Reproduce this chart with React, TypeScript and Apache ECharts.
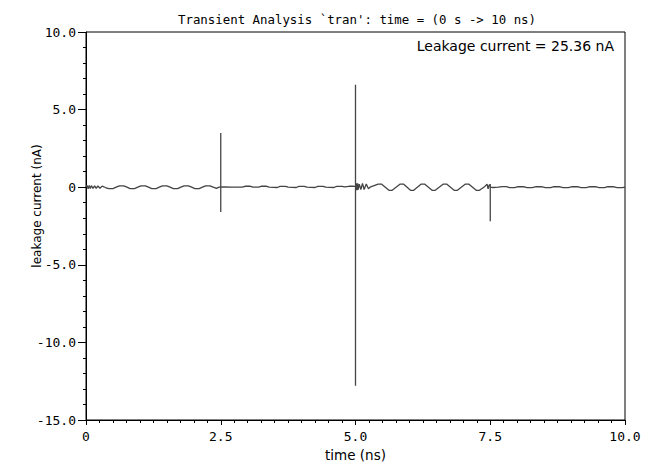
import React, { useEffect, useRef } from "react";
import * as echarts from "echarts";

const titleText = "Transient Analysis `tran': time = (0 s -> 10 ns)";
const annotation = "Leakage current = 25.36 nA";
const xName = "time (ns)";
const yName = "leakage current (nA)";

// time in ns
const timeNs: number[] = [
  0.0, 0.02, 0.04, 0.06, 0.08, 0.1, 0.13, 0.16, 0.19, 0.22, 0.26, 0.3,
  0.36, 0.42, 0.5, 0.56, 0.62, 0.7, 0.76, 0.82, 0.9, 0.96, 1.02, 1.1, 1.16,
  1.22, 1.3, 1.36, 1.42, 1.5, 1.56, 1.62, 1.7, 1.76, 1.82, 1.9, 1.96, 2.02,
  2.1, 2.16, 2.22, 2.3, 2.36, 2.42, 2.47,
  2.5, 2.5, 2.5, 2.5,
  2.55, 2.7, 2.9, 2.95, 3.05, 3.1, 3.2, 3.25, 3.35, 3.4, 3.55, 3.6, 3.7, 3.75,
  3.9, 3.95, 4.05, 4.1, 4.25, 4.3, 4.4, 4.45, 4.6, 4.65, 4.75, 4.8, 4.88,
  4.95, 4.98,
  5.0, 5.0, 5.0, 5.0,
  5.01, 5.02, 5.03, 5.04, 5.05, 5.07, 5.1, 5.13, 5.16, 5.2, 5.24, 5.27,
  5.42, 5.48, 5.62, 5.68, 5.83, 5.89, 6.02, 6.08, 6.22, 6.28, 6.42, 6.48,
  6.63, 6.69, 6.83, 6.89, 7.04, 7.1, 7.24, 7.3, 7.4, 7.44, 7.46, 7.48,
  7.5, 7.5, 7.5, 7.5,
  7.55, 7.65, 7.72, 7.8, 7.86, 7.95, 8.02, 8.12, 8.18, 8.28, 8.35, 8.45,
  8.52, 8.62, 8.68, 8.78, 8.85, 8.95, 9.02, 9.12, 9.18, 9.28, 9.35, 9.45,
  9.52, 9.62, 9.68, 9.78, 9.85, 9.95, 10.0,
];

// current in nA
const currentNa: number[] = [
  0.0, 0.12, -0.1, 0.11, -0.09, 0.1, -0.08, 0.09, -0.08, 0.08, -0.07, 0.07,
  -0.02, -0.09, -0.09, 0.0, 0.09, 0.09, 0.0, -0.09, -0.09, 0.0, 0.09, 0.09, 0.0,
  -0.09, -0.09, 0.0, 0.09, 0.09, 0.0, -0.09, -0.09, 0.0, 0.09, 0.09, 0.0, -0.09,
  -0.09, 0.0, 0.09, 0.09, 0.0, -0.08, 0.0,
  0.0, 3.5, -1.6, 0.0,
  0.02, 0.0, 0.0, 0.06, 0.06, 0.0, 0.0, 0.06, 0.06, 0.0, -0.02, 0.05, 0.05, 0.0,
  -0.02, 0.05, 0.05, 0.0, -0.02, 0.05, 0.05, 0.0, -0.02, 0.05, 0.05, 0.02, 0.06,
  0.06, 0.05,
  0.05, 6.6, -12.8, 0.1,
  -0.2, 0.25, -0.2, 0.25, -0.15, 0.2, -0.15, 0.25, -0.15, 0.2, -0.1, 0.0,
  0.2, 0.2, -0.2, -0.2, 0.2, 0.2, -0.2, -0.2, 0.2, 0.2, -0.2, -0.2,
  0.2, 0.2, -0.2, -0.2, 0.2, 0.2, -0.2, -0.2, 0.05, 0.2, -0.1, 0.15,
  0.1, 0.2, -2.2, 0.0,
  -0.02, 0.0, 0.04, 0.04, -0.03, -0.03, 0.03, 0.03, -0.03, -0.03, 0.03, 0.03,
  -0.03, -0.03, 0.03, 0.03, -0.03, -0.03, 0.03, 0.03, -0.03, -0.03, 0.03, 0.03,
  -0.03, -0.03, 0.03, 0.03, -0.03, -0.03, 0.0,
];

const fmt = (v: number) => (v === 0 ? "0" : v.toFixed(1));

export default function App() {
  const ref = useRef<HTMLDivElement>(null);
  useEffect(() => {
    if (!ref.current) return;
    const chart = echarts.init(ref.current, undefined, { renderer: "svg" });
    const data = timeNs.map((t, i) => [t, currentNa[i]]);
    const font = "DejaVu Sans";
    const mono = "DejaVu Sans Mono";
    chart.setOption({
      animation: false,
      backgroundColor: "#fff",
      title: {
        text: titleText,
        left: 352,
        top: 8,
        textAlign: "center",
        textStyle: { fontFamily: mono, fontSize: 12.4, fontWeight: "normal", color: "#000" },
      },
      grid: {
        left: 86,
        right: 27,
        top: 32,
        bottom: 44,
        show: true,
        borderColor: "#000",
        borderWidth: 1,
      },
      xAxis: {
        type: "value",
        min: 0,
        max: 10,
        interval: 2.5,
        name: xName,
        nameLocation: "middle",
        nameGap: 28,
        nameMoveOverlap: false,
        nameTextStyle: { fontFamily: font, fontSize: 13.5, color: "#000" },
        axisLine: { show: true, onZero: false, lineStyle: { color: "#000", width: 1 } },
        axisTick: { show: true, length: 5, lineStyle: { color: "#000" } },
        minorTick: { show: true, splitNumber: 10, length: 3, lineStyle: { color: "#000" } },
        splitLine: { show: false },
        axisLabel: { formatter: fmt, fontFamily: mono, fontSize: 13, color: "#000", margin: 10 },
      },
      yAxis: {
        type: "value",
        min: -15,
        max: 10,
        interval: 5,
        name: yName,
        nameLocation: "middle",
        nameGap: 43,
        nameMoveOverlap: false,
        nameTextStyle: {
          fontFamily: font,
          fontSize: 12,
          color: "#000",
          padding: [0, 0, 0, 40],
        },
        axisLine: { show: true, onZero: false, lineStyle: { color: "#000", width: 1 } },
        axisTick: { show: true, length: 8, lineStyle: { color: "#000" } },
        minorTick: { show: true, splitNumber: 5, length: 3, lineStyle: { color: "#000" } },
        splitLine: { show: false },
        axisLabel: { formatter: fmt, fontFamily: mono, fontSize: 13, color: "#000", margin: 10 },
      },
      graphic: [
        {
          type: "text",
          right: 38,
          top: 39,
          style: {
            text: annotation,
            fontFamily: font,
            fontSize: 14,
            fill: "#000",
          },
        },
      ],
      series: [
        {
          type: "line",
          data,
          showSymbol: false,
          symbol: "none",
          lineStyle: { color: "#444", width: 1.3 },
          clip: true,
        },
      ],
    });
    return () => chart.dispose();
  }, []);
  return (
    <div
      ref={ref}
      style={{ position: "fixed", left: 0, top: 0, width: 652, height: 467 }}
    />
  );
}
